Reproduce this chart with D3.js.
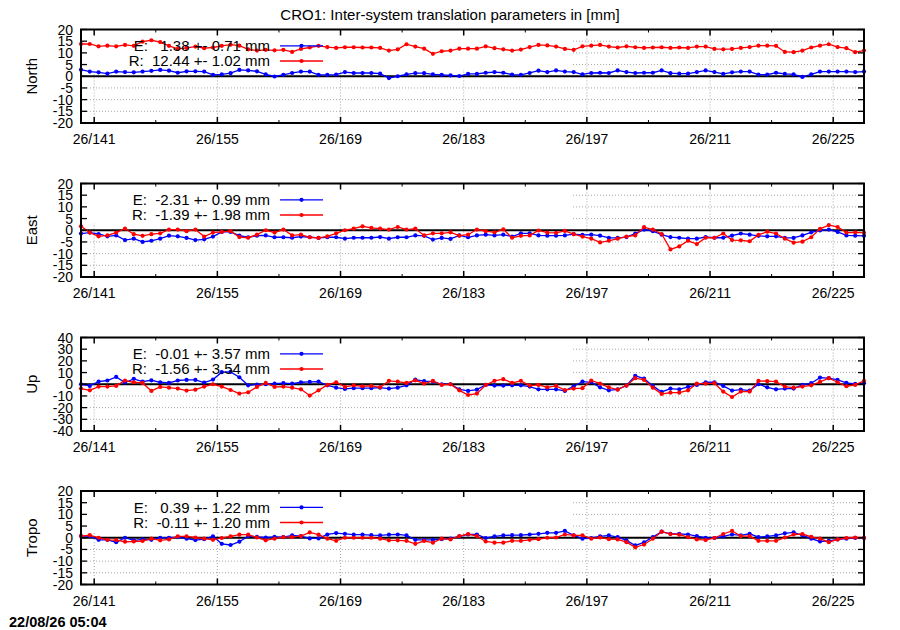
<!DOCTYPE html>
<html><head><meta charset="utf-8">
<script src="https://cdn.jsdelivr.net/npm/d3@7"></script>
<style>body{margin:0;background:#fff} text{font-family:"Liberation Sans",Arial,Helvetica,sans-serif;fill:#000}</style>
</head><body><svg id="c" width="900" height="630"></svg>
<script>
const days = [
139.5,140.5,141.5,142.5,143.5,144.5,145.5,146.5,147.5,148.5,
149.5,150.5,151.5,152.5,153.5,154.5,155.5,156.5,157.5,158.5,
159.5,160.5,161.5,162.5,163.5,164.5,165.5,166.5,167.5,168.5,
169.5,170.5,171.5,172.5,173.5,174.5,175.5,176.5,177.5,178.5,
179.5,180.5,181.5,182.5,183.5,184.5,185.5,186.5,187.5,188.5,
189.5,190.5,191.5,192.5,193.5,194.5,195.5,196.5,197.5,198.5,
199.5,200.5,201.5,202.5,203.5,204.5,205.5,206.5,207.5,208.5,
209.5,210.5,211.5,212.5,213.5,214.5,215.5,216.5,217.5,218.5,
219.5,220.5,221.5,222.5,223.5,224.5,225.5,226.5,227.5,228.5];
const xTickDays = [141,155,169,183,197,211,225];
const xTickLabels = ["26/141","26/155","26/169","26/183","26/197","26/211","26/225"];
const xMinorDays = [148,162,176,190,204,218];
const panelNames = ["North","East","Up","Tropo"];
const yTicksSmall = [-20,-15,-10,-5,0,5,10,15,20];
const yTicksLarge = [-40,-30,-20,-10,0,10,20,30,40];
const titleText = "CRO1: Inter-system translation parameters in [mm]";
const stampText = "22/08/26 05:04";

const northE = [
2.8,2.0,1.7,1.1,2.0,1.8,1.7,2.0,2.3,2.7,
2.4,1.5,2.1,2.1,2.0,0.6,0.8,1.3,2.7,2.5,
2.1,0.8,-0.1,0.6,1.4,2.0,2.0,0.6,0.6,0.7,
1.8,1.4,1.4,1.4,1.1,-0.8,0.0,0.8,1.3,1.3,
0.8,0.6,0.4,0.1,1.0,1.0,1.5,1.8,1.5,0.7,
0.6,1.4,2.4,1.8,2.5,2.0,1.8,0.8,1.4,1.5,
1.4,2.5,1.8,1.4,1.5,1.5,2.5,1.3,1.1,1.1,
1.8,2.5,1.8,1.0,1.7,2.0,2.0,0.7,0.7,1.5,
1.0,0.8,-0.3,0.8,2.0,2.0,2.0,2.0,1.8,2.0];
const northR = [
13.8,13.8,12.8,13.1,12.8,13.4,13.0,14.8,15.4,14.6,
13.0,11.7,12.1,12.7,12.0,12.3,13.0,13.5,13.1,11.5,
11.0,11.3,11.1,11.3,10.4,11.7,12.3,13.0,12.5,12.1,
12.4,12.4,12.3,12.3,12.1,11.0,11.5,13.7,12.7,11.8,
9.6,10.7,11.0,11.8,11.8,11.8,12.8,12.0,11.5,11.0,
11.4,12.5,13.4,13.2,12.7,11.7,11.3,12.8,13.1,13.4,
12.7,12.3,12.8,12.4,12.1,12.3,12.4,12.1,12.3,12.1,
12.7,12.7,11.7,11.5,11.7,12.1,12.5,13.1,13.1,13.0,
10.4,10.3,11.0,12.3,13.1,13.7,12.5,12.0,10.3,11.0];
const eastE = [
-1.4,-1.0,-1.6,-2.6,-2.2,-4.2,-3.6,-5.0,-4.5,-3.6,
-2.3,-2.6,-3.3,-4.2,-3.9,-2.7,-0.7,-0.7,-2.3,-3.0,
-2.3,-2.2,-3.0,-3.0,-3.2,-2.7,-3.0,-3.3,-3.0,-3.0,
-3.6,-3.2,-3.2,-3.2,-2.9,-3.6,-3.0,-3.0,-2.2,-2.4,
-4.0,-3.3,-3.7,-2.2,-3.0,-2.2,-1.9,-2.2,-1.9,-2.7,
-1.3,-1.3,-2.2,-2.3,-2.3,-2.2,-1.7,-2.0,-1.9,-2.3,
-3.3,-3.3,-2.9,-1.4,0.3,-0.4,-1.9,-2.9,-3.2,-3.6,
-3.6,-2.9,-3.2,-3.2,-2.3,-1.4,-1.9,-2.4,-2.6,-2.6,
-3.3,-3.3,-2.2,-0.9,-0.1,0.3,-0.7,-2.2,-2.3,-2.4];
const eastR = [
1.7,-1.0,-2.6,-2.2,-1.0,0.7,-1.7,-2.4,-1.7,-1.3,
0.3,0.3,-0.4,0.3,-2.7,-1.0,-0.7,-0.4,-2.9,-3.2,
-1.9,0.0,-1.0,0.3,-2.2,-1.9,-3.0,-3.3,-2.6,-1.3,
0.0,0.7,1.7,1.0,0.7,0.3,1.4,0.3,0.7,-2.2,
-1.3,-1.3,-0.9,-2.3,-1.9,0.3,-0.4,-0.9,0.4,-3.2,
-2.4,-2.2,-0.1,-1.0,-1.1,-0.3,-1.7,-2.7,-3.6,-5.2,
-4.5,-3.6,-2.7,-2.2,1.3,0.3,-1.6,-8.2,-6.9,-4.5,
-5.9,-3.2,-3.2,-1.4,-4.2,-4.3,-4.7,-2.0,-0.6,-1.4,
-3.6,-5.3,-4.9,-3.0,0.6,2.2,1.4,-1.0,-0.9,-1.1];
const upE = [
0.0,-1.4,2.3,3.2,6.3,1.4,4.6,2.3,3.4,1.7,
1.1,3.2,3.7,3.7,1.4,4.0,10.3,10.6,6.0,-0.9,
-0.3,0.0,0.6,0.9,0.6,1.7,2.0,2.3,-0.9,-2.9,
-4.0,-3.4,-3.4,-3.4,-2.9,-3.7,-2.9,-0.9,4.0,2.6,
2.3,0.0,0.0,-4.3,-5.7,-4.6,-0.6,-1.1,-1.1,-0.9,
-0.9,-2.0,-4.3,-4.3,-4.3,-5.7,-1.7,2.3,1.7,-2.6,
-5.2,-4.3,-1.1,7.2,4.9,-1.4,-6.6,-3.7,-4.3,-2.3,
-0.6,1.7,1.7,-1.4,-5.4,-4.6,-5.4,0.0,-2.6,-4.3,
-3.7,-3.7,-0.6,0.9,5.7,5.2,3.7,1.1,0.3,0.9];
const upR = [
-3.7,-5.2,-2.0,-2.0,-1.4,3.2,1.7,1.1,-5.7,-2.3,
-2.9,-3.7,-5.4,-4.6,-2.0,0.0,-2.0,-4.9,-8.0,-6.9,
-2.3,1.1,-2.3,-2.0,-2.9,-4.3,-9.7,-5.2,-0.6,1.7,
-2.3,-0.9,-1.7,-1.4,-2.6,2.9,2.3,1.1,3.4,0.6,
2.9,-0.6,0.0,-5.2,-9.2,-8.0,-0.6,2.9,4.3,1.1,
2.9,-1.1,-0.6,-2.6,-1.4,-4.9,-3.7,-3.4,3.2,0.6,
-2.6,-4.6,-1.1,5.2,3.7,-2.9,-8.3,-7.2,-7.2,-5.2,
0.6,0.6,0.9,-6.3,-10.9,-6.3,-6.3,2.9,2.6,2.3,
-2.0,-2.9,-2.0,-0.9,2.0,5.2,1.7,-1.7,-0.6,2.9];
const tropoE = [
0.7,0.7,-0.9,-0.9,-1.9,0.0,-1.1,-0.7,-0.9,0.0,
0.0,0.3,-0.4,-1.0,-0.6,0.6,-2.6,-3.1,-1.7,0.7,
0.4,0.1,0.4,0.3,1.0,0.7,-0.3,-0.3,1.4,2.0,
1.7,1.3,1.3,1.1,1.0,1.3,1.4,1.0,-0.9,-0.9,
-0.9,-0.6,-0.4,0.6,1.4,1.4,-0.1,0.6,1.0,1.1,
1.1,1.4,1.7,2.1,2.1,2.9,1.0,-0.4,-0.1,0.6,
1.0,0.3,-1.1,-3.3,-2.0,0.3,2.6,1.7,1.7,1.4,
0.7,0.0,-0.1,0.6,1.4,1.0,1.7,0.3,0.6,1.0,
1.9,2.3,1.0,-0.4,-1.6,-1.3,-0.7,-0.4,-0.1,-0.1];
const tropoR = [
0.7,1.1,0.0,-0.9,-1.0,-1.7,-1.6,-1.4,-0.4,-1.1,
-0.7,0.6,0.6,0.1,-0.4,-0.9,-0.1,0.6,1.3,1.3,
0.1,-1.1,-0.4,0.3,0.3,0.7,2.3,1.3,-0.4,-1.3,
0.0,0.0,0.0,0.0,-0.4,-1.1,-1.1,-1.3,-2.6,-1.4,
-2.1,-0.4,-0.7,0.7,1.6,0.7,-1.6,-2.1,-2.1,-1.3,
-1.3,-0.9,-0.6,0.0,0.1,1.4,1.0,1.0,-0.4,0.1,
-0.6,-0.7,-1.9,-4.1,-2.9,-0.4,2.6,1.6,1.3,0.3,
-0.7,-1.0,-0.1,1.6,2.9,0.7,0.7,-1.3,-1.3,-1.3,
0.1,1.4,1.6,0.4,-0.4,-1.9,-0.7,-0.1,0.1,0.0];

const legendE = ["E:   1.38 +- 0.71 mm","E:  -2.31 +- 0.99 mm","E:  -0.01 +- 3.57 mm","E:   0.39 +- 1.22 mm"];
const legendR = ["R:  12.44 +- 1.02 mm","R:  -1.39 +- 1.98 mm","R:  -1.56 +- 3.54 mm","R:  -0.11 +- 1.20 mm"];
const seriesE = [northE, eastE, upE, tropoE];
const seriesR = [northR, eastR, upR, tropoR];
const yLimits = [20, 20, 40, 20];

const svg = d3.select("#c");
const L = 81, R = 864;
const tops = [29.5, 183.5, 337.5, 491];
const H = 93.5;
const x = d3.scaleLinear().domain([139.5, 228.5]).range([L, R]);
const blue = "#0000ff", red = "#ff0000";

svg.append("text").attr("x", 450).attr("y", 20).attr("text-anchor", "middle")
  .style("font-size", "15px").text(titleText);
svg.append("text").attr("x", 9).attr("y", 627)
  .style("font-size", "14.5px").style("font-weight", "bold").text(stampText);

panelNames.forEach((name, k) => {
  const top = tops[k], bot = top + H;
  const lim = yLimits[k];
  const yt = lim === 40 ? yTicksLarge : yTicksSmall;
  const y = d3.scaleLinear().domain([-lim, lim]).range([bot, top]);
  const g = svg.append("g");

  // grid
  const grid = g.append("g").attr("stroke", "#a8a8a8").attr("stroke-width", 1).attr("stroke-dasharray", "1,2");
  yt.filter(v => v !== 0 && Math.abs(v) !== lim).forEach(v => {
    grid.append("line").attr("x1", L).attr("x2", R).attr("y1", y(v)).attr("y2", y(v));
  });
  xTickDays.forEach(d => {
    grid.append("line").attr("x1", x(d)).attr("x2", x(d)).attr("y1", top).attr("y2", bot);
  });
  // opaque key area
  g.append("rect").attr("x", L + 1).attr("y", top + 1).attr("width", 573 - L - 1).attr("height", 39).attr("fill", "#fff");

  // zero axis
  g.append("line").attr("x1", L).attr("x2", R).attr("y1", y(0)).attr("y2", y(0))
    .attr("stroke", "#000").attr("stroke-width", 1.8);

  // data
  const line = d3.line().x((d, i) => x(days[i])).y(d => y(d));
  [[seriesE[k], blue], [seriesR[k], red]].forEach(([vals, col]) => {
    g.append("path").datum(vals).attr("d", line).attr("fill", "none")
      .attr("stroke", col).attr("stroke-width", 1.3);
    g.selectAll(null).data(vals).enter().append("circle")
      .attr("cx", (d, i) => x(days[i])).attr("cy", d => y(d)).attr("r", 2.1).attr("fill", col);
  });

  // legend
  [[legendE[k], blue, 16.3], [legendR[k], red, 31.5]].forEach(([txt, col, dy]) => {
    g.append("text").attr("x", 270).attr("y", top + dy + 5.3).attr("text-anchor", "end")
      .attr("xml:space", "preserve").style("white-space", "pre").style("font-size", "15px").text(txt);
    g.append("line").attr("x1", 280).attr("x2", 323).attr("y1", top + dy).attr("y2", top + dy)
      .attr("stroke", col).attr("stroke-width", 1.3);
    g.append("circle").attr("cx", 301.5).attr("cy", top + dy).attr("r", 2.1).attr("fill", col);
  });

  // ticks
  const tk = g.append("g").attr("stroke", "#000");
  xTickDays.forEach(d => {
    tk.append("line").attr("x1", x(d)).attr("x2", x(d)).attr("y1", bot).attr("y2", bot - 6).attr("stroke-width", 1.5);
    tk.append("line").attr("x1", x(d)).attr("x2", x(d)).attr("y1", top).attr("y2", top + 6).attr("stroke-width", 1.5);
  });
  xMinorDays.forEach(d => {
    tk.append("line").attr("x1", x(d)).attr("x2", x(d)).attr("y1", bot).attr("y2", bot - 3).attr("stroke-width", 1);
    tk.append("line").attr("x1", x(d)).attr("x2", x(d)).attr("y1", top).attr("y2", top + 3).attr("stroke-width", 1);
  });
  yt.forEach(v => {
    tk.append("line").attr("x1", L).attr("x2", L + 6).attr("y1", y(v)).attr("y2", y(v)).attr("stroke-width", 1.3);
    tk.append("line").attr("x1", R).attr("x2", R - 6).attr("y1", y(v)).attr("y2", y(v)).attr("stroke-width", 1.3);
  });

  // border
  g.append("rect").attr("x", L).attr("y", top).attr("width", R - L).attr("height", H)
    .attr("fill", "none").attr("stroke", "#000").attr("stroke-width", 2);

  // tick labels
  yt.forEach(v => {
    g.append("text").attr("x", 73).attr("y", y(v) + 5).attr("text-anchor", "end")
      .style("font-size", "14px").text(String(v));
  });
  xTickDays.forEach((d, i) => {
    g.append("text").attr("x", x(d)).attr("y", bot + 21).attr("text-anchor", "middle")
      .style("font-size", "14px").text(xTickLabels[i]);
  });
  // axis title
  g.append("text").attr("transform", `translate(37,${top + H / 2}) rotate(-90)`)
    .attr("text-anchor", "middle").style("font-size", "15px").text(name);
});
</script>
</body></html>
